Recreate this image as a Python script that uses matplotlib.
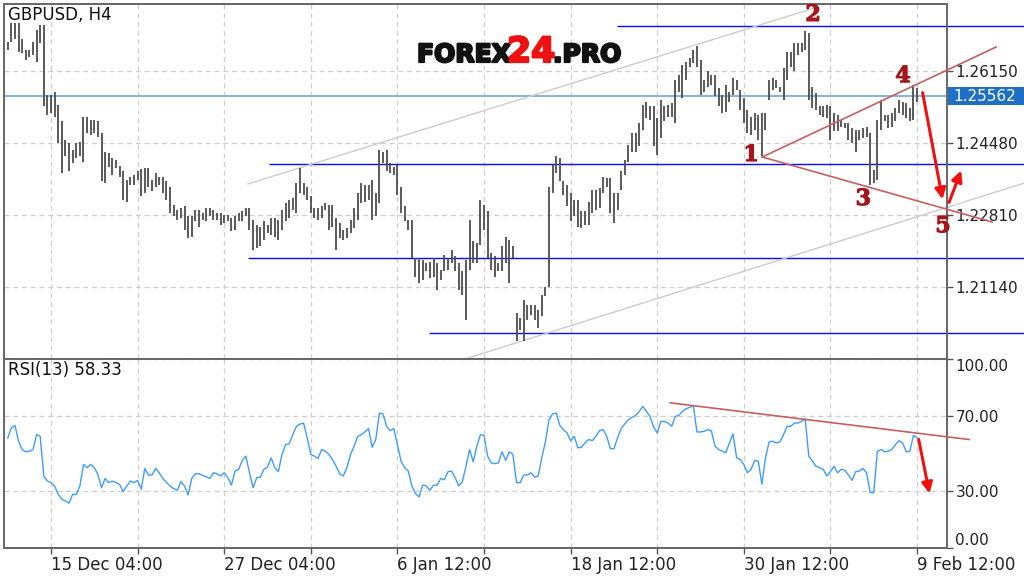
import numpy as np
import matplotlib.pyplot as plt
import matplotlib.patheffects as pe
from matplotlib.patches import Rectangle

plt.rcParams['font.family'] = ['DejaVu Sans']

# H4 bars GBPUSD: high / low per bar
bar_high = [
    1.2683, 1.2726, 1.2727, 1.2727, 1.2689, 1.2664, 1.2664, 1.2683, 1.2710, 1.2722,
    1.2722, 1.2560, 1.2560, 1.2567, 1.2537, 1.2498, 1.2455, 1.2449, 1.2432, 1.2449,
    1.2451, 1.2509, 1.2509, 1.2502, 1.2502, 1.2498, 1.2471, 1.2426, 1.2424, 1.2413,
    1.2409, 1.2395, 1.2382, 1.2363, 1.2370, 1.2374, 1.2382, 1.2387, 1.2390, 1.2390,
    1.2363, 1.2378, 1.2370, 1.2370, 1.2359, 1.2347, 1.2305, 1.2293, 1.2297, 1.2301,
    1.2278, 1.2278, 1.2293, 1.2293, 1.2285, 1.2297, 1.2297, 1.2293, 1.2285, 1.2285,
    1.2281, 1.2281, 1.2274, 1.2278, 1.2285, 1.2289, 1.2297, 1.2297, 1.2270, 1.2258,
    1.2254, 1.2266, 1.2258, 1.2274, 1.2274, 1.2270, 1.2293, 1.2308, 1.2316, 1.2320,
    1.2355, 1.2390, 1.2355, 1.2347, 1.2324, 1.2297, 1.2297, 1.2301, 1.2308, 1.2305,
    1.2305, 1.2274, 1.2262, 1.2247, 1.2250, 1.2270, 1.2297, 1.2332, 1.2355, 1.2351,
    1.2351, 1.2363, 1.2332, 1.2432, 1.2428, 1.2432, 1.2401, 1.2393, 1.2397, 1.2347,
    1.2301, 1.2270, 1.2270, 1.2181, 1.2181, 1.2177, 1.2169, 1.2173, 1.2181, 1.2169,
    1.2154, 1.2189, 1.2181, 1.2200, 1.2185, 1.2169, 1.2150, 1.2177, 1.2270, 1.2220,
    1.2216, 1.2316, 1.2305, 1.2289, 1.2193, 1.2185, 1.2169, 1.2208, 1.2231, 1.2223,
    1.2208, 1.2053, 1.2042, 1.2084, 1.2073, 1.2073, 1.2073, 1.2061, 1.2096, 1.2115,
    1.2347, 1.2397, 1.2417, 1.2413, 1.2359, 1.2351, 1.2332, 1.2316, 1.2316, 1.2289,
    1.2289, 1.2312, 1.2339, 1.2339, 1.2343, 1.2370, 1.2366, 1.2366, 1.2332, 1.2332,
    1.2382, 1.2409, 1.2444, 1.2471, 1.2471, 1.2494, 1.2537, 1.2544, 1.2533, 1.2533,
    1.2506, 1.2548, 1.2533, 1.2537, 1.2540, 1.2594, 1.2606, 1.2629, 1.2637, 1.2645,
    1.2664, 1.2672, 1.2641, 1.2594, 1.2614, 1.2606, 1.2606, 1.2575, 1.2560, 1.2583,
    1.2567, 1.2598, 1.2594, 1.2571, 1.2552, 1.2525, 1.2509, 1.2517, 1.2513, 1.2517,
    1.2517, 1.2594, 1.2598, 1.2594, 1.2579, 1.2622, 1.2660, 1.2660, 1.2680, 1.2680,
    1.2680, 1.2707, 1.2703, 1.2579, 1.2564, 1.2533, 1.2533, 1.2537, 1.2533, 1.2517,
    1.2513, 1.2502, 1.2494, 1.2494, 1.2482, 1.2479, 1.2479, 1.2482, 1.2486, 1.2471,
    1.2386, 1.2502, 1.2548, 1.2513, 1.2513, 1.2517, 1.2529, 1.2548, 1.2544, 1.2540,
    1.2529, 1.2583, 1.2575,
]
bar_low = [
    1.2664, 1.2683, 1.2689, 1.2660, 1.2656, 1.2641, 1.2647, 1.2652, 1.2637, 1.2681,
    1.2533, 1.2513, 1.2517, 1.2509, 1.2448, 1.2378, 1.2417, 1.2382, 1.2401, 1.2413,
    1.2417, 1.2405, 1.2471, 1.2467, 1.2471, 1.2463, 1.2359, 1.2356, 1.2393, 1.2374,
    1.2390, 1.2370, 1.2316, 1.2312, 1.2351, 1.2351, 1.2363, 1.2325, 1.2332, 1.2347,
    1.2336, 1.2347, 1.2351, 1.2332, 1.2316, 1.2285, 1.2278, 1.2270, 1.2274, 1.2247,
    1.2227, 1.2231, 1.2266, 1.2254, 1.2270, 1.2266, 1.2278, 1.2270, 1.2270, 1.2258,
    1.2262, 1.2266, 1.2243, 1.2247, 1.2266, 1.2266, 1.2278, 1.2247, 1.2200, 1.2204,
    1.2208, 1.2223, 1.2239, 1.2235, 1.2231, 1.2223, 1.2247, 1.2266, 1.2274, 1.2293,
    1.2285, 1.2332, 1.2328, 1.2316, 1.2285, 1.2274, 1.2270, 1.2274, 1.2293, 1.2247,
    1.2254, 1.2200, 1.2227, 1.2223, 1.2227, 1.2239, 1.2250, 1.2270, 1.2308, 1.2312,
    1.2316, 1.2270, 1.2278, 1.2308, 1.2401, 1.2382, 1.2378, 1.2374, 1.2328, 1.2285,
    1.2266, 1.2247, 1.2181, 1.2138, 1.2123, 1.2131, 1.2150, 1.2135, 1.2138, 1.2107,
    1.2131, 1.2150, 1.2154, 1.2169, 1.2150, 1.2107, 1.2096, 1.2038, 1.2154, 1.2169,
    1.2169, 1.2212, 1.2247, 1.2181, 1.2154, 1.2138, 1.2150, 1.2150, 1.2169, 1.2123,
    1.2181, 1.1988, 1.2015, 1.1988, 1.2038, 1.2050, 1.2038, 1.2019, 1.2046, 1.2092,
    1.2115, 1.2332, 1.2378, 1.2359, 1.2328, 1.2301, 1.2266, 1.2278, 1.2254, 1.2250,
    1.2258, 1.2258, 1.2285, 1.2293, 1.2297, 1.2332, 1.2347, 1.2285, 1.2262, 1.2293,
    1.2339, 1.2374, 1.2405, 1.2428, 1.2428, 1.2440, 1.2479, 1.2506, 1.2502, 1.2440,
    1.2421, 1.2459, 1.2498, 1.2509, 1.2509, 1.2494, 1.2567, 1.2552, 1.2594, 1.2625,
    1.2633, 1.2625, 1.2560, 1.2567, 1.2579, 1.2583, 1.2556, 1.2533, 1.2517, 1.2521,
    1.2544, 1.2560, 1.2571, 1.2525, 1.2494, 1.2471, 1.2467, 1.2479, 1.2455, 1.2417,
    1.2479, 1.2548, 1.2571, 1.2575, 1.2567, 1.2548, 1.2594, 1.2625, 1.2614, 1.2652,
    1.2660, 1.2664, 1.2548, 1.2529, 1.2525, 1.2513, 1.2509, 1.2506, 1.2455, 1.2475,
    1.2475, 1.2486, 1.2482, 1.2455, 1.2448, 1.2428, 1.2455, 1.2459, 1.2463, 1.2351,
    1.2355, 1.2363, 1.2479, 1.2498, 1.2482, 1.2486, 1.2498, 1.2517, 1.2513, 1.2506,
    1.2498, 1.2502, 1.2544,
]
rsi = [
    58.2, 63.5, 64.9, 56.5, 52.1, 50.9, 51.2, 52.1, 60.0, 59.1,
    38.1, 35.4, 34.6, 32.8, 28.4, 25.8, 24.9, 23.7, 28.4, 28.4,
    32.8, 44.2, 42.5, 44.2, 42.5, 38.9, 31.9, 36.8, 34.6, 35.4,
    34.6, 33.7, 29.8, 32.8, 35.4, 34.6, 35.8, 31.1, 42.1, 38.6,
    38.6, 42.1, 39.8, 36.8, 34.6, 32.8, 31.4, 30.5, 35.1, 32.8,
    28.1, 36.8, 39.3, 39.3, 38.4, 37.7, 36.8, 39.8, 39.3, 38.1,
    39.8, 37.2, 33.3, 40.7, 41.6, 46.3, 48.6, 39.8, 31.9, 37.2,
    37.5, 41.6, 42.8, 47.7, 42.5, 40.4, 49.5, 54.7, 55.1, 60.0,
    64.4, 65.6, 66.1, 58.2, 49.5, 48.6, 47.4, 52.1, 51.2, 49.5,
    46.8, 43.3, 39.3, 38.1, 42.5, 49.5, 53.9, 59.1, 60.0, 61.4,
    63.2, 53.3, 57.4, 71.4, 70.9, 64.4, 62.1, 63.2, 54.7, 46.0,
    42.5, 40.7, 32.8, 28.8, 27.0, 33.3, 32.8, 30.5, 33.3, 33.2,
    36.8, 36.1, 40.4, 40.7, 37.2, 32.8, 35.1, 43.3, 52.1, 45.6,
    53.9, 60.0, 59.6, 48.6, 45.1, 44.6, 45.1, 50.9, 46.3, 50.9,
    49.5, 34.6, 34.6, 38.6, 38.6, 39.8, 37.5, 38.1, 47.7, 56.1,
    67.9, 70.9, 71.4, 64.9, 62.6, 60.9, 56.8, 59.1, 53.0, 53.3,
    55.6, 57.4, 56.8, 59.1, 62.1, 62.6, 59.1, 52.6, 52.5, 58.2,
    63.2, 65.6, 67.9, 69.1, 70.2, 72.3, 74.9, 72.3, 69.6, 63.9,
    60.9, 67.0, 67.0, 66.1, 64.4, 69.6, 70.2, 72.3, 73.7, 74.4,
    75.4, 61.4, 61.4, 61.8, 62.6, 62.1, 53.9, 52.1, 51.2, 50.4,
    55.6, 60.4, 47.7, 46.8, 44.2, 39.8, 41.6, 46.3, 46.0, 33.7,
    47.7, 56.1, 56.5, 55.6, 56.1, 60.0, 64.4, 64.4, 66.1, 66.1,
    67.0, 68.4, 48.6, 46.0, 43.3, 42.5, 41.6, 38.1, 40.4, 43.3,
    39.8, 41.6, 41.1, 38.6, 35.8, 40.4, 40.7, 42.1, 39.8, 29.3,
    29.3, 51.2, 52.1, 50.9, 51.2, 52.1, 54.7, 56.8, 55.6, 50.9,
    51.2, 59.6, 58.33,
]

price_ticks = [1.26150, 1.24480, 1.22810, 1.21140]
rsi_ticks = [0, 30, 70, 100]
time_labels = ['15 Dec 04:00', '', '27 Dec 04:00', '', '6 Jan 12:00', '',
               '18 Jan 12:00', '', '30 Jan 12:00', '', '9 Feb 12:00']
last_price = 1.25562

# horizontal levels: (start bar, price)
level_start = [168.9, 72.4, 66.6, 116.8]
level_price = [1.2719, 1.2399, 1.2181, 1.2007]

# wave points 1..5 (bar, price)
wave_labels = ['1', '2', '3', '4', '5']
wave_x = [206.0, 223.2, 237.1, 248.1, 259.2]
wave_y = [1.2420, 1.2745, 1.2318, 1.2603, 1.2255]

x = np.arange(len(bar_high))
x_end = 281.7

fig = plt.figure(figsize=(10.24, 5.77), dpi=100)
ax = fig.add_axes([4 / 1024, 1 - 359 / 577, 943 / 1024, 355 / 577])
ax2 = fig.add_axes([4 / 1024, 1 - 548 / 577, 943 / 1024, 189 / 577], sharex=ax)

grid_kw = dict(color='#cfcfcf', linestyle=(0, (4, 3)), linewidth=0.9)

# ---- price panel ----
ax.vlines(x, bar_low, bar_high, color='#4d4d4d', lw=1.3, zorder=3)
ax.set_xlim(-1.03, 260.3)
ax.set_ylim(1.19468, 1.27704)
ax.set_xticks(np.arange(12, 253, 24))
ax.set_yticks(price_ticks)
ax.set_yticklabels([f'{p:.5f}' for p in price_ticks])
ax.yaxis.tick_right()
ax.tick_params(axis='x', bottom=False, labelbottom=False)
ax.tick_params(axis='y', direction='out', length=4, width=1, color='#555555',
               labelsize=11, pad=2, labelcolor='#222222')
ax.grid(True, **grid_kw)
ax.set_axisbelow(True)

ax.axhline(last_price, color='#7aaedc', lw=1.3, zorder=2)
ax.hlines(level_price, level_start, x_end, color='#0a0aff', lw=1.0,
          clip_on=False, zorder=2)

# channel (gray)
ax.plot([66.6, 224.3], [1.2353, 1.2763], color='#cccccc', lw=1.0, zorder=2)
ax.plot([126.7, x_end], [1.19468, 1.2355], color='#cccccc', lw=1.0,
        clip_on=False, zorder=2)

# triangle (brown-red)
ax.plot([209.1, 273.9], [1.24154, 1.26706], color='#c46060', lw=1.2,
        clip_on=False, zorder=4)
ax.plot([209.1, 272.8], [1.24154, 1.22646], color='#c46060', lw=1.2,
        clip_on=False, zorder=4)

for lbl, wx, wy in zip(wave_labels, wave_x, wave_y):
    ax.text(wx, wy, lbl, family='DejaVu Serif', fontweight='bold',
            fontsize=16, color='#a3161c', ha='center', va='center',
            clip_on=False, zorder=5,
            path_effects=[pe.withStroke(linewidth=0.8, foreground='#a3161c')])

arrow_kw = dict(arrowstyle='-|>', color='#f01010', lw=2.2, mutation_scale=16)
ax.annotate('', xy=(259.2, 1.2311), xytext=(253.4, 1.2571),
            arrowprops=arrow_kw, annotation_clip=False)
ax.annotate('', xy=(264.5, 1.2390), xytext=(260.6, 1.2304),
            arrowprops=arrow_kw, annotation_clip=False)

# last price tag
fig.canvas.draw()
y_px = ax.transData.transform((0, last_price))[1]
fig.patches.append(Rectangle((948 / 1024, (y_px - 9) / 577), 76 / 1024, 18 / 577,
                             transform=fig.transFigure, facecolor='#1f6fc5',
                             edgecolor='none', zorder=6))
fig.text(953 / 1024, y_px / 577, f'{last_price:.5f}', color='white',
         fontsize=11, va='center', ha='left', zorder=7)

# ---- RSI panel ----
ax2.plot(x, rsi, color='#3f9cff', lw=1.0, zorder=3)
ax2.set_ylim(0, 100)
ax2.set_yticks(rsi_ticks)
ax2.set_yticklabels([f'{v:.2f}' for v in rsi_ticks])
ax2.yaxis.tick_right()
ax2.tick_params(axis='y', direction='out', length=4, width=1, color='#555555',
                labelsize=11, pad=2, labelcolor='#222222')
for lbl in ax2.get_yticklabels():
    if lbl.get_text() == '100.00':
        lbl.set_va('top')
    elif lbl.get_text() == '0.00':
        lbl.set_va('bottom')
ax2.set_xticks(np.arange(12, 253, 24))
ax2.set_xticklabels(time_labels)
ax2.tick_params(axis='x', direction='out', length=4, width=1, color='#555555',
                labelsize=12, pad=2, labelcolor='#222222')
for lbl in ax2.get_xticklabels():
    lbl.set_ha('left')
ax2.grid(True, **grid_kw)
ax2.set_axisbelow(True)

ax2.plot([183.6, 266.4], [76.8, 57.4], color='#c46060', lw=1.2,
         clip_on=False, zorder=4)
ax2.annotate('', xy=(255.6, 27.4), xytext=(252.3, 58.9),
             arrowprops=arrow_kw, annotation_clip=False)

for a in (ax, ax2):
    for s in a.spines.values():
        s.set_color('#666666')
        s.set_linewidth(1.4)

# labels
fig.text(8 / 1024, 1 - 15 / 577, 'GBPUSD, H4', fontsize=12, va='center',
         color='#111111')
fig.text(8 / 1024, 1 - 370 / 577, 'RSI(13) 58.33', fontsize=12, va='center',
         color='#111111')

# watermark
wm_y = 1 - 62 / 577
heavy = [pe.withStroke(linewidth=1.6, foreground='#111111')]
fig.text(417 / 1024, wm_y, 'FOREX', fontsize=18, fontweight='heavy',
         color='#111111', va='baseline', path_effects=heavy)
fig.text(507 / 1024, wm_y, '24', fontsize=25, fontweight='heavy',
         color='#ee1111', va='baseline',
         path_effects=[pe.withStroke(linewidth=1.6, foreground='#ee1111')])
fig.text(553 / 1024, wm_y, '.PRO', fontsize=18, fontweight='heavy',
         color='#111111', va='baseline', path_effects=heavy)

fig.savefig('out.png', dpi=100)
